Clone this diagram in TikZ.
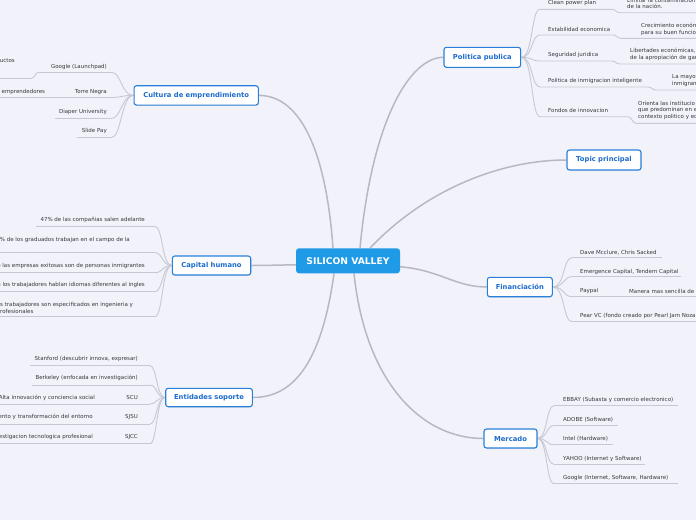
\documentclass[tikz,border=0pt]{standalone}
\usepackage{fontspec}
\setmainfont{DejaVu Sans}
\usetikzlibrary{shadows}
\definecolor{bgc}{RGB}{242,242,250}
\definecolor{tblue}{RGB}{40,128,218}
\definecolor{ttext}{RGB}{28,108,205}
\definecolor{cfill}{RGB}{30,154,230}
\definecolor{lgray}{RGB}{200,200,210}
\definecolor{mgray}{RGB}{184,184,194}
\definecolor{stext}{RGB}{55,55,62}
\newcommand{\subfnt}{\fontsize{5.5}{6.8}\selectfont}
\newcommand{\topfnt}{\fontsize{6.8}{8}\selectfont\bfseries}
\newcommand{\cenfnt}{\fontsize{9.2}{11}\selectfont\bfseries}
\pgfdeclarelayer{back}
\pgfsetlayers{back,main}
\begin{document}
\begin{tikzpicture}[x=1pt,y=-1pt,
 sub/.style={font=\subfnt, text=stext, inner sep=0pt, align=left},
 ul/.style={draw=lgray, line width=0.9pt},
 mainc/.style={draw=mgray, line width=1.5pt},
 topic/.style={draw=tblue, fill=white, rounded corners=2.5pt, line width=1.1pt, text=ttext, font=\topfnt, inner sep=0pt,
   drop shadow={shadow xshift=0.6pt, shadow yshift=-0.9pt, opacity=0.15}},
 center/.style={fill=cfill, rounded corners=3pt, text=white, font=\cenfnt, inner sep=0pt,
   minimum width=104pt, minimum height=25pt}
]
\useasboundingbox (0,0) rectangle (696,520);

% ---------- nodes ----------
\node[center] (cen) at (348,260.8) {SILICON VALLEY};
\node[topic, minimum width=124.3pt, minimum height=19.3pt] (cul) at (196.2,95.4) {Cultura de emprendimiento};
\node[topic, minimum width=78.4pt, minimum height=19pt] (cap) at (211.5,265.5) {Capital humano};
\node[topic, minimum width=86.6pt, minimum height=18.4pt] (ent) at (209,397.5) {Entidades soporte};
\node[topic, minimum width=76.7pt, minimum height=20pt] (pol) at (482.3,57.3) {Politica publica};
\node[topic, minimum width=74pt, minimum height=20pt] (tpp) at (604,160) {Topic principal};
\node[topic, minimum width=65pt, minimum height=19.4pt] (fin) at (519.8,287) {Financiación};
\node[topic, minimum width=53pt, minimum height=19pt] (mer) at (510.5,438.5) {Mercado};

% Cultura de emprendimiento
\node[sub, anchor=east] (c1) at (107,66.5) {Google (Launchpad)};
\node[sub, anchor=east] (c1a) at (15,60.5) {uctos};
\node[sub, anchor=east] (c2) at (107,92) {Torre Negra};
\node[sub, anchor=west] (c2a) at (1.5,92) {emprendedores};
\node[sub, anchor=east] (c3) at (107,112) {Diaper University};
\node[sub, anchor=east] (c4) at (107,131) {Slide Pay};
\coordinate (cj1) at (112,72.5);
\coordinate (cj2) at (112,97.5);
\coordinate (cj3) at (112,118.3);
\coordinate (cj4) at (112,137.3);

% Capital humano
\node[sub, anchor=east] (h1) at (145,219.7) {47\% de las compañias salen adelante};
\node[sub, anchor=east] (h2) at (130,240) {9\% de los graduados trabajan en el campo de la};
\node[sub, anchor=east] (h3) at (145,266) {e las empresas exitosas son de personas inmigrantes};
\node[sub, anchor=east] (h4) at (145,285) {e los trabajadores hablan idiomas diferentes al ingles};
\node[sub, anchor=west] (h5) at (0,307.8) {s trabajadores son especificados en ingenieria y\\rofesionales};
\coordinate (hj1) at (155,226.5);
\coordinate (hj2) at (155,252.7);
\coordinate (hj3) at (155,272.7);
\coordinate (hj4) at (155,291.7);
\coordinate (hj5) at (155,316.5);

% Entidades soporte
\node[sub, anchor=east] (e1) at (138,359) {Stanford (descubrir innova, expresar)};
\node[sub, anchor=east] (e2) at (138,378.3) {Berkeley (enfocada en investigación)};
\node[sub, anchor=east] (e3) at (138,397.7) {SCU};
\node[sub, anchor=east] (e3a) at (95,397.7) {Alta innovación y conciencia social};
\node[sub, anchor=east] (e4) at (138,417) {SJSU};
\node[sub, anchor=east] (e4a) at (93,417) {ento y transformación del entorno};
\node[sub, anchor=east] (e5) at (138,436.7) {SJCC};
\node[sub, anchor=east] (e5a) at (93,436.7) {estigacion tecnologica profesional};
\coordinate (ej1) at (150,365.7);
\coordinate (ej2) at (150,385);
\coordinate (ej3) at (150,404);
\coordinate (ej4) at (150,424);
\coordinate (ej5) at (150,443.7);

% Politica publica
\node[sub, anchor=west] (p1) at (548,3.3) {Clean power plan};
\node[sub, anchor=west] (p1a) at (627,3.4) {Limitar la contaminación\\de la nación.};
\node[sub, anchor=west] (p2) at (548,29) {Estabilidad economica};
\node[sub, anchor=west] (p2a) at (641,29.2) {Crecimiento económ\\para su buen funcio};
\node[sub, anchor=west] (p3) at (548,55) {Seguridad juridica};
\node[sub, anchor=west] (p3a) at (630,54.4) {Libertades económicas,\\de la apropiación de gar};
\node[sub, anchor=west] (p4) at (548,81) {Politica de inmigracion inteligente};
\node[sub, anchor=west] (p4a) at (672,80.9) {La mayo\\inmigran};
\node[sub, anchor=west] (p5) at (548,110) {Fondos de innovacion};
\node[sub, anchor=west] (p5a) at (638,110.3) {Orienta las institucio\\que predominan en e\\contexto politico y ec};
\coordinate (pj1) at (540,9.3);
\coordinate (pj2) at (540,35);
\coordinate (pj3) at (540,61);
\coordinate (pj4) at (540,87);
\coordinate (pj5) at (540,116.7);

% Financiacion
\node[sub, anchor=west] (f1) at (580,252.3) {Dave Mcclure, Chris Sacked};
\node[sub, anchor=west] (f2) at (580,271.7) {Emergence Capital, Tendem Capital};
\node[sub, anchor=west] (f3) at (580,291) {Paypal};
\node[sub, anchor=west] (f3a) at (629,291) {Manera mas sencilla de};
\node[sub, anchor=west] (f4) at (580,316) {Pear VC (fondo creado por Pearl Jam Noza};
\coordinate (fj1) at (572,257.7);
\coordinate (fj2) at (572,276.7);
\coordinate (fj3) at (572,296.7);
\coordinate (fj4) at (572,321.7);

% Mercado
\node[sub, anchor=west] (m1) at (563,400) {EBBAY (Subasta y comercio electronico)};
\node[sub, anchor=west] (m2) at (563,420) {ADOBE (Software)};
\node[sub, anchor=west] (m3) at (563,439) {Intel (Hardware)};
\node[sub, anchor=west] (m4) at (563,458.5) {YAHOO (Internet y Software)};
\node[sub, anchor=west] (m5) at (563,478) {Google (Internet, Software, Hardware)};
\coordinate (mj1) at (554,405.7);
\coordinate (mj2) at (554,425.6);
\coordinate (mj3) at (554,444.8);
\coordinate (mj4) at (554,464.3);
\coordinate (mj5) at (554,483.7);

% ---------- connectors ----------
\begin{pgfonlayer}{back}
\fill[bgc] (0,0) rectangle (696,520);
% main branches
\draw[mainc] ([xshift=-15pt]cen.north) .. controls (326,150) and (300,95.4) .. (cul.east);
\draw[mainc] ([yshift=-4pt]cen.west) .. controls (280,265) and (265,265.5) .. (cap.east);
\draw[mainc] ([xshift=-14pt]cen.south) .. controls (322,360) and (295,397.5) .. (ent.east);
\draw[mainc] ([xshift=12pt]cen.north) .. controls (372,120) and (410,57.3) .. (pol.west);
\draw[mainc] ([xshift=22pt]cen.north) .. controls (425,190) and (500,160) .. (tpp.west);
\draw[mainc] ([yshift=-6pt]cen.east) .. controls (440,270) and (455,287) .. (fin.west);
\draw[mainc] ([xshift=6pt]cen.south) .. controls (365,380) and (420,438.5) .. (mer.west);

% fans
\foreach \j in {cj1,cj2,cj3,cj4} \draw[ul] (cul.west) .. controls +(-12,0) and +(9,0) .. (\j);
\foreach \j in {hj1,hj2,hj3,hj4,hj5} \draw[ul] (cap.west) .. controls +(-10,0) and +(8,0) .. (\j);
\foreach \j in {ej1,ej2,ej3,ej4,ej5} \draw[ul] (ent.west) .. controls +(-9,0) and +(7,0) .. (\j);
\foreach \j in {pj1,pj2,pj3,pj4,pj5} \draw[ul] (pol.east) .. controls +(12,0) and +(-9,0) .. (\j);
\foreach \j in {fj1,fj2,fj3,fj4} \draw[ul] (fin.east) .. controls +(12,0) and +(-9,0) .. (\j);
\foreach \j in {mj1,mj2,mj3,mj4,mj5} \draw[ul] (mer.east) .. controls +(10,0) and +(-8,0) .. (\j);

% underlines
\draw[ul] (cj1) -- (38,72.5) .. controls (35,72.5) and (35,78.5) .. (31,78.5) -- (0,78.5);
\draw[ul] (cj2) -- (0,97.5);
\draw[ul] (cj3) -- (55,118.3);
\draw[ul] (cj4) -- (77,137.3);

\draw[ul] (hj1) -- (36,226.5);
\draw[ul] (hj2) -- (0,252.7);
\draw[ul] (hj3) -- (0,272.7);
\draw[ul] (hj4) -- (0,291.7);
\draw[ul] (hj5) -- (0,316.5);

\draw[ul] (ej1) -- (30,365.7);
\draw[ul] (ej2) -- (32,385);
\draw[ul] (ej3) -- (0,404);
\draw[ul] (ej4) -- (0,424);
\draw[ul] (ej5) -- (0,443.7);

\draw[ul] (pj1) -- (612,9.3) .. controls (616,9.3) and (616,12.7) .. (620,12.7) -- (696,12.7);
\draw[ul] (pj2) -- (613,35) .. controls (617,35) and (617,38.3) .. (621,38.3) -- (696,38.3);
\draw[ul] (pj3) -- (612,61) .. controls (616,61) and (616,64) .. (620,64) -- (696,64);
\draw[ul] (pj4) -- (648,87) .. controls (652,87) and (652,90) .. (656,90) -- (696,90);
\draw[ul] (pj5) -- (628,116.7) .. controls (632,116.7) and (632,123.3) .. (636,123.3) -- (696,123.3);

\draw[ul] (fj1) -- (662,257.7);
\draw[ul] (fj2) -- (681,276.7);
\draw[ul] (fj3) -- (696,296.7);
\draw[ul] (fj4) -- (696,321.7);

\draw[ul] (mj1) -- (678,405.7);
\draw[ul] (mj2) -- (618,425.6);
\draw[ul] (mj3) -- (613,444.8);
\draw[ul] (mj4) -- (645,464.3);
\draw[ul] (mj5) -- (678,483.7);
\end{pgfonlayer}
\end{tikzpicture}
\end{document}
